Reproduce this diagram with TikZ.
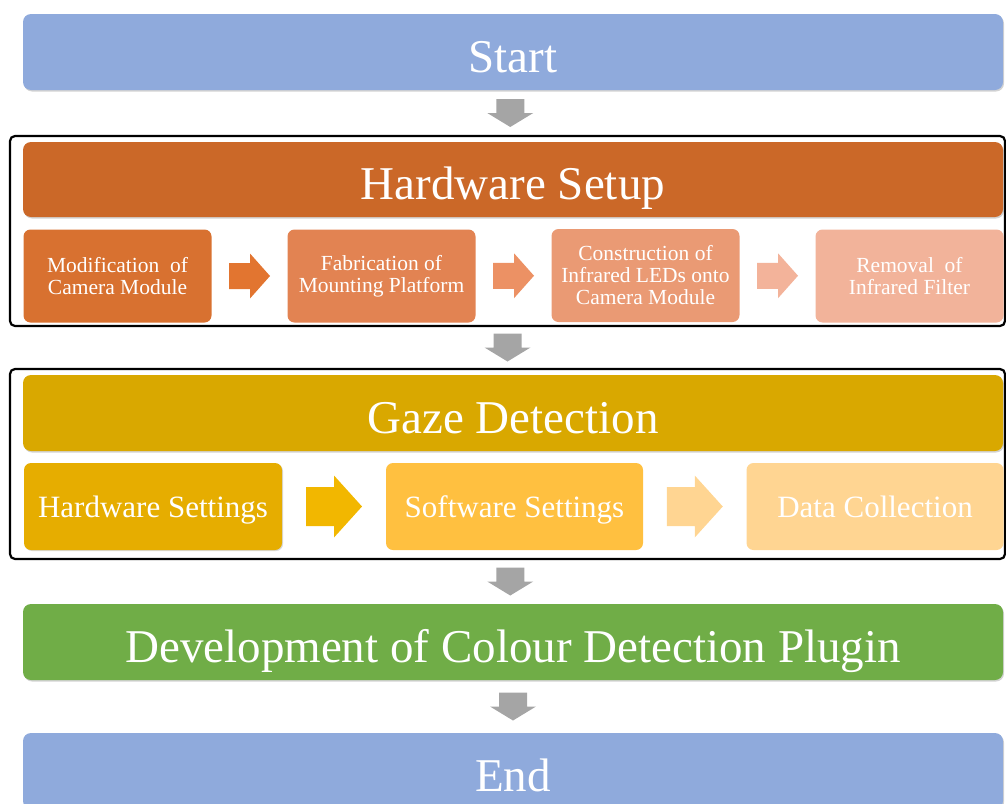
\documentclass[tikz,border=0pt]{standalone}
\usepackage{fontspec}
\setmainfont{Liberation Serif}
\usetikzlibrary{calc,shadows}

\definecolor{startblue}{HTML}{8FAADC}
\definecolor{hwdark}{HTML}{CB6828}
\definecolor{hwA}{HTML}{D87130}
\definecolor{hwB}{HTML}{E28352}
\definecolor{hwC}{HTML}{EA9A74}
\definecolor{hwD}{HTML}{F2B39A}
\definecolor{hwarrA}{HTML}{E27530}
\definecolor{hwarrB}{HTML}{EC9164}
\definecolor{hwarrC}{HTML}{F3B39A}
\definecolor{gzdark}{HTML}{D9A800}
\definecolor{gzA}{HTML}{E6AD00}
\definecolor{gzB}{HTML}{FFC040}
\definecolor{gzC}{HTML}{FFD592}
\definecolor{gzarrA}{HTML}{F2B700}
\definecolor{gzarrB}{HTML}{FFD592}
\definecolor{devgreen}{HTML}{70AD47}
\definecolor{flowgray}{HTML}{A5A5A5}

\tikzset{
  bar/.style={rounded corners=8pt, minimum width=980, minimum height=76,
    inner sep=0pt, text=white, font=\fontsize{47}{50}\selectfont,
    text height=40pt, text depth=0pt,
    drop shadow={shadow xshift=1pt, shadow yshift=-1.5pt, opacity=0.35}},
  hwbox/.style={rounded corners=7pt, minimum width=188, minimum height=93,
    inner sep=0pt, text=white, align=center,
    font=\fontsize{21.5}{22}\selectfont},
  gzbox/.style={rounded corners=7pt, minimum width=257, minimum height=87,
    inner sep=0pt, text=white, font=\fontsize{31}{34}\selectfont,
    text height=21pt, text depth=0pt},
  groupframe/.style={draw=black, line width=2.2pt, rounded corners=5pt},
  % block arrow pointing along +x, centred at the pic origin:
  % total length / head length / shaft width / head width
  pics/blockarrow/.style args={#1/#2/#3/#4}{code={
    \fill (-#1/2,-#3/2) -- (#1/2-#2,-#3/2) -- (#1/2-#2,-#4/2) -- (#1/2,0)
      -- (#1/2-#2,#4/2) -- (#1/2-#2,#3/2) -- (-#1/2,#3/2) -- cycle;}},
}

\begin{document}
\begin{tikzpicture}[x=1pt, y=-1pt]
\useasboundingbox (0,0) rectangle (1006,803);

% group frames
\draw[groupframe] (10,136) rectangle (1005,326);
\node[inner sep=0pt, minimum width=995, minimum height=190] (hwframe) at (507.5,231) {};
\draw[groupframe] (10,369) rectangle (1005,559);
\node[inner sep=0pt, minimum width=995, minimum height=190] (gzframe) at (507.5,464) {};

% main bars
\node[bar, fill=startblue] (start) at (513,52) {Start};
\node[bar, fill=hwdark, minimum height=75] (hw) at (513,179.5) {Hardware Setup};
\node[bar, fill=gzdark] (gz) at (513,413) {Gaze Detection};
\node[bar, fill=devgreen] (dev) at (513,642) {Development of Colour Detection Plugin};
\node[bar, fill=startblue] (end) at (513,771) {End};

% hardware steps
\node[hwbox, fill=hwA] (h1) at (117.5,276) {Modification\ \ of\\Camera Module};
\node[hwbox, fill=hwB] (h2) at (381.5,276) {Fabrication of\\Mounting Platform};
\node[hwbox, fill=hwC] (h3) at (645.5,275.5) {Construction of\\Infrared LEDs onto\\Camera Module};
\node[hwbox, fill=hwD] (h4) at (909.5,276) {Removal\ \ of\\Infrared Filter};

% gaze detection steps
\node[gzbox, fill=gzA, minimum width=258,
  drop shadow={shadow xshift=1pt, shadow yshift=-1pt, opacity=0.3}] (g1) at (153,506.5) {Hardware Settings};
\node[gzbox, fill=gzB] (g2) at (514.5,506.5) {Software Settings};
\node[gzbox, fill=gzC] (g3) at (875,506.5) {Data Collection};

% arrows between hardware steps
\pic[fill=hwarrA] at ($(h1.east)!0.5!(h2.west)$) {blockarrow=41/20/26/45};
\pic[fill=hwarrB] at ($(h2.east)!0.5!(h3.west)$) {blockarrow=41/20/26/45};
\pic[fill=hwarrC] at ($(h3.east)!0.5!(h4.west)$) {blockarrow=41/20/26/45};

% arrows between gaze detection steps
\pic[fill=gzarrA] at ($(g1.east)!0.5!(g2.west)$) {blockarrow=56/28/39/62};
\pic[fill=gzarrB] at ($(g2.east)!0.5!(g3.west)$) {blockarrow=56/28/39/62};

% downward flow arrows
\pic[fill=flowgray, rotate=-90] at ($(start.south)!0.5!(hwframe.north)$) {blockarrow=28/14/28/46};
\pic[fill=flowgray, rotate=-90] at ($(hwframe.south)!0.5!(gzframe.north)$) {blockarrow=28/14/28/46};
\pic[fill=flowgray, rotate=-90] at ($(gzframe.south)!0.5!(dev.north)$) {blockarrow=28/14/28/46};
\pic[fill=flowgray, rotate=-90] at ($(dev.south)!0.5!(end.north)$) {blockarrow=28/14/28/46};
\end{tikzpicture}
\end{document}
